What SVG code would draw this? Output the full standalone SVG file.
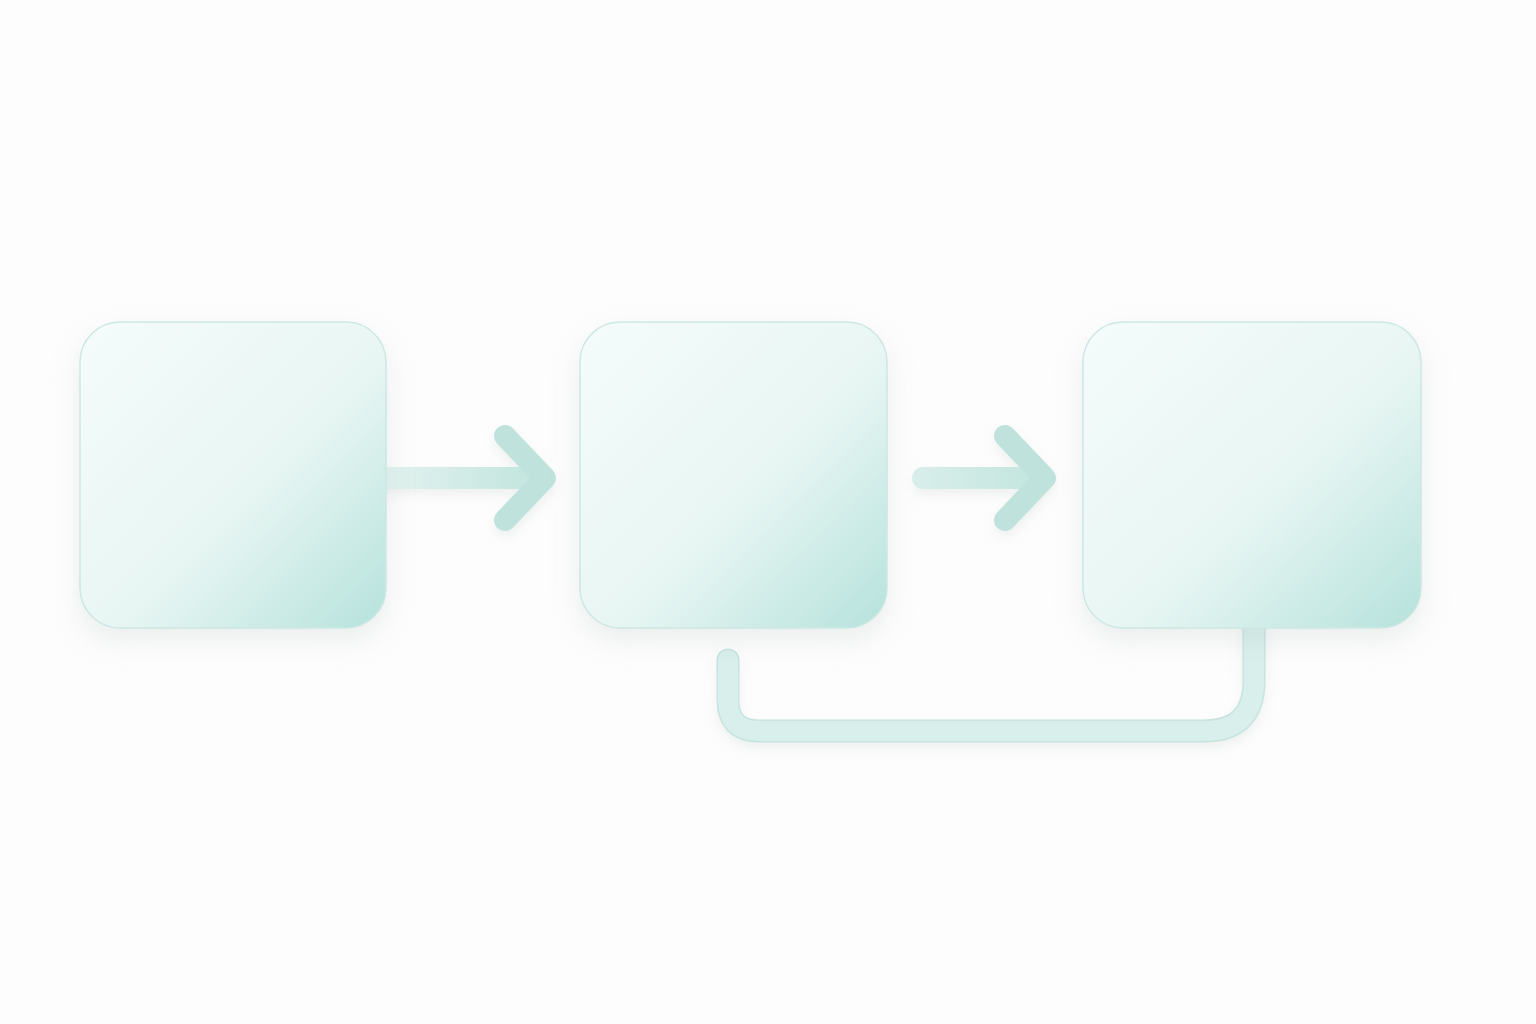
<svg xmlns="http://www.w3.org/2000/svg" width="1536" height="1024" viewBox="0 0 1536 1024">
<defs>
<linearGradient id="boxg" x1="0" y1="0" x2="1" y2="1">
<stop offset="0" stop-color="#f5fcfb"/>
<stop offset="0.55" stop-color="#e8f6f3"/>
<stop offset="1" stop-color="#b6e2dc"/>
</linearGradient>
<linearGradient id="arr1" gradientUnits="userSpaceOnUse" x1="386" y1="0" x2="520" y2="0">
<stop offset="0" stop-color="#e2f2ef"/>
<stop offset="1" stop-color="#c6e6e0"/>
</linearGradient>
<linearGradient id="arr2" gradientUnits="userSpaceOnUse" x1="913" y1="0" x2="1025" y2="0">
<stop offset="0" stop-color="#d8eeea"/>
<stop offset="1" stop-color="#c6e6e0"/>
</linearGradient>
<filter id="sh" x="-20%" y="-20%" width="140%" height="150%">
<feGaussianBlur in="SourceAlpha" stdDeviation="14"/>
<feOffset dy="12" result="b"/>
<feFlood flood-color="#9fb8b3" flood-opacity="0.22"/>
<feComposite in2="b" operator="in"/>
<feMerge><feMergeNode/><feMergeNode in="SourceGraphic"/></feMerge>
</filter>
<filter id="lsh" x="-20%" y="-50%" width="140%" height="200%">
<feGaussianBlur in="SourceAlpha" stdDeviation="6"/>
<feOffset dy="6" result="b"/>
<feFlood flood-color="#9fb8b3" flood-opacity="0.18"/>
<feComposite in2="b" operator="in"/>
<feMerge><feMergeNode/><feMergeNode in="SourceGraphic"/></feMerge>
</filter>
</defs>
<style>
.box{fill:url(#boxg);stroke:#cde8e3;stroke-width:1.5}
.line{fill:none;stroke-linecap:round;stroke-linejoin:round}
.outer{stroke:#c8e4df;stroke-width:23}
.inner{stroke:#d9efeb;stroke-width:20}
.head{stroke:#bfe2dc;stroke-width:22}
</style>
<rect width="1536" height="1024" fill="#fefdfd"/>
<g id="connectors" filter="url(#lsh)">
<path class="line outer" d="M728 660 V700 Q728 731 759 731 H1204 Q1254 731 1254 681 V628"/>
<path class="line inner" d="M728 660 V700 Q728 731 759 731 H1204 Q1254 731 1254 681 V628"/>
<path class="line" style="stroke:url(#arr1);stroke-width:22" d="M386 478 H525"/>
<path class="line head" d="M505 436 L545 478 L505 520"/>
<path class="line" style="stroke:url(#arr2);stroke-width:22" d="M923 478 H1030"/>
<path class="line head" d="M1005 436 L1045 478 L1005 520"/>
</g>
<g id="node1" filter="url(#sh)">
<rect class="box" x="80" y="322" width="306" height="306" rx="40"/>
</g>
<g id="node2" filter="url(#sh)">
<rect class="box" x="580" y="322" width="307" height="306" rx="40"/>
</g>
<g id="node3" filter="url(#sh)">
<rect class="box" x="1083" y="322" width="338" height="306" rx="40"/>
</g>
</svg>
